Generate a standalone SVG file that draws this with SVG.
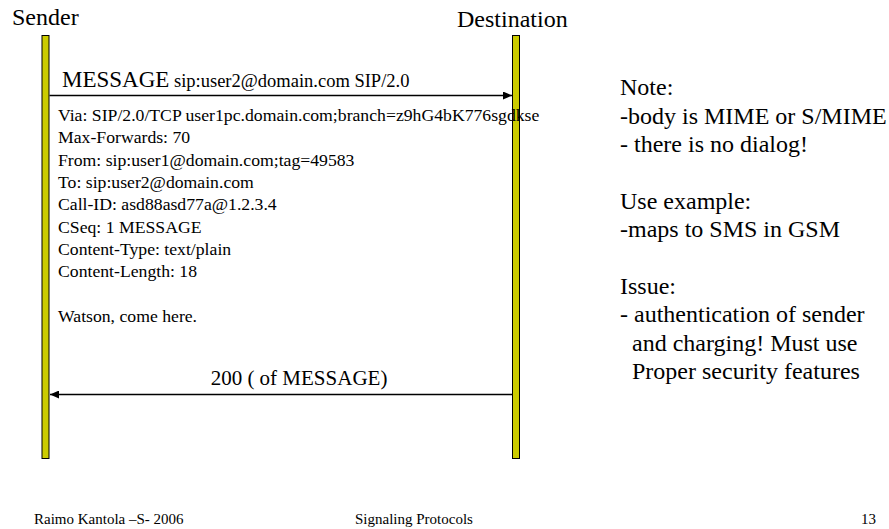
<svg xmlns="http://www.w3.org/2000/svg" width="889" height="529" viewBox="0 0 889 529">
  <style>
    text { font-family: "Liberation Serif", "Times New Roman", serif; fill: #000; }
    .title { font-size: 24px; }
    .msg { font-size: 23px; }
    .uri { font-size: 18.5px; }
    .hdr { font-size: 17.7px; }
    .resp { font-size: 21px; }
    .note { font-size: 24px; }
    .foot { font-size: 15px; }
    .bar { fill: #cccc00; stroke: #000; stroke-width: 1; }
    .arrow { stroke: #000; stroke-width: 1.3; fill: none; }
  </style>
  <defs>
    <marker id="head" markerWidth="10" markerHeight="8" refX="9" refY="4" orient="auto" markerUnits="userSpaceOnUse">
      <path d="M0,0 L9,4 L0,8 z" fill="#000"/>
    </marker>
  </defs>

  <rect width="889" height="529" fill="#fff"/>

  <!-- Sender lifeline -->
  <g id="sender">
    <text class="title" x="12" y="25">Sender</text>
    <rect class="bar" x="42" y="35.5" width="7" height="423"/>
  </g>

  <!-- Destination lifeline -->
  <g id="destination">
    <text class="title" x="457" y="27">Destination</text>
    <rect class="bar" x="512.5" y="35.5" width="7" height="423"/>
  </g>

  <!-- Messages -->
  <g id="connectors">
    <line class="arrow" x1="49.5" y1="95.5" x2="512" y2="95.5" marker-end="url(#head)"/>
    <line class="arrow" x1="512" y1="394.5" x2="50" y2="394.5" marker-end="url(#head)"/>
  </g>

  <g id="message-label">
    <text x="62" y="87"><tspan class="msg">MESSAGE</tspan><tspan class="uri"> sip:user2@domain.com SIP/2.0</tspan></text>
  </g>

  <!-- MESSAGE request headers and body -->
  <g id="message-body">
    <text class="hdr" x="58" y="121">Via: SIP/2.0/TCP user1pc.domain.com;branch=z9hG4bK776sgdkse</text>
    <text class="hdr" x="58" y="143.3">Max-Forwards: 70</text>
    <text class="hdr" x="58" y="165.6">From: sip:user1@domain.com;tag=49583</text>
    <text class="hdr" x="58" y="187.9">To: sip:user2@domain.com</text>
    <text class="hdr" x="58" y="210.2">Call-ID: asd88asd77a@1.2.3.4</text>
    <text class="hdr" x="58" y="232.5">CSeq: 1 MESSAGE</text>
    <text class="hdr" x="58" y="254.8">Content-Type: text/plain</text>
    <text class="hdr" x="58" y="277.1">Content-Length: 18</text>
    <text class="hdr" x="58" y="321.7">Watson, come here.</text>
  </g>

  <g id="response-label">
    <text class="resp" x="299" y="385" text-anchor="middle">200 ( of MESSAGE)</text>
  </g>

  <!-- Side notes -->
  <g id="notes">
    <text class="note" x="620" y="95">Note:</text>
    <text class="note" x="620" y="123.5">-body is MIME or S/MIME</text>
    <text class="note" x="620" y="152">- there is no dialog!</text>
    <text class="note" x="620" y="208.5">Use example:</text>
    <text class="note" x="620" y="237">-maps to SMS in GSM</text>
    <text class="note" x="620" y="293.5">Issue:</text>
    <text class="note" x="620" y="322">- authentication of sender</text>
    <text class="note" x="632" y="350.5">and charging! Must use</text>
    <text class="note" x="632" y="379">Proper security features</text>
  </g>

  <!-- Footer -->
  <g id="footer">
    <text class="foot" x="34" y="524">Raimo Kantola –S- 2006</text>
    <text class="foot" x="355" y="524">Signaling Protocols</text>
    <text class="foot" x="876" y="524" text-anchor="end">13</text>
  </g>
</svg>
